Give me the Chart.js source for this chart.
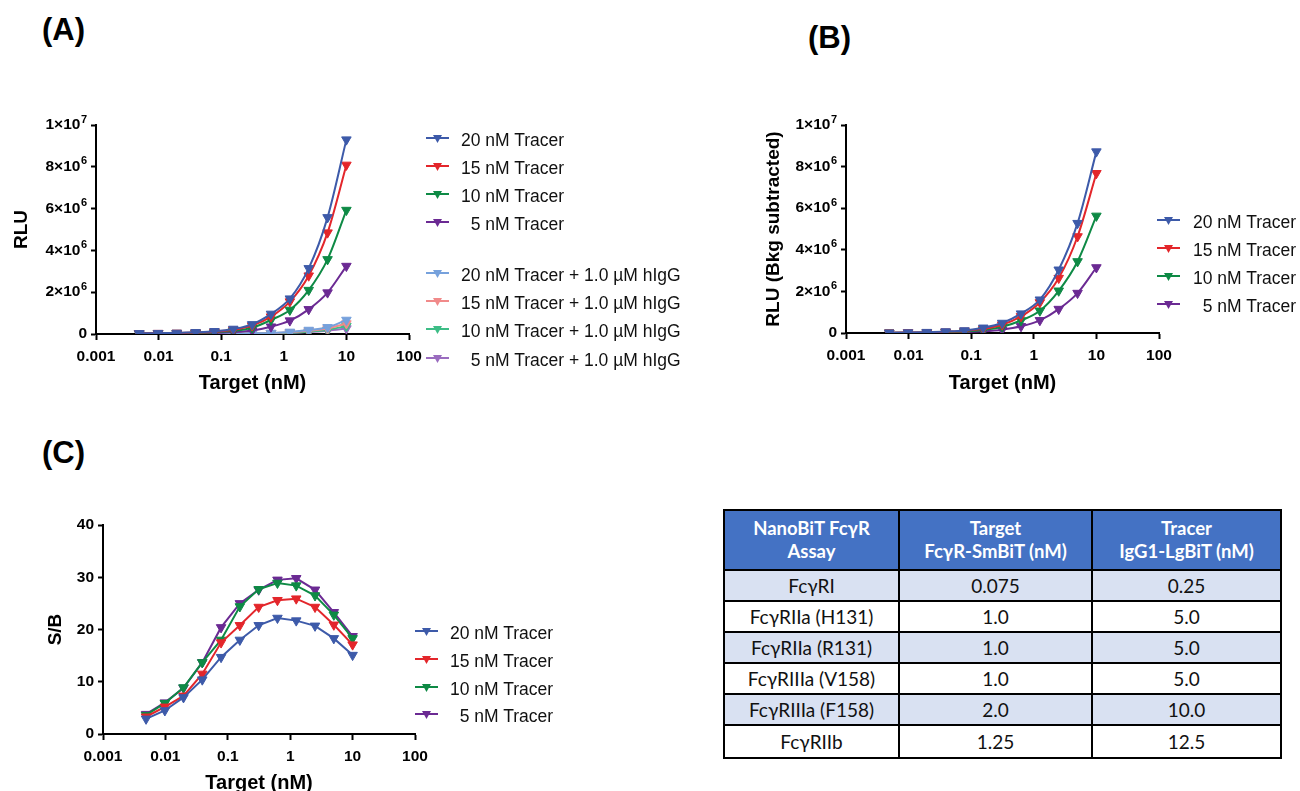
<!DOCTYPE html>
<html>
<head>
<meta charset="utf-8">
<script src="https://cdn.jsdelivr.net/npm/chart.js@4.4.1/dist/chart.umd.min.js"></script>
<style>
  body { margin: 0; background: #fff; }
  #page { position: relative; width: 1300px; height: 791px; overflow: hidden; font-family: "Liberation Sans", Arial, sans-serif; }
  canvas { position: absolute; }
  .panel { position: absolute; font-weight: bold; font-size: 31px; line-height: 36px; color: #000; }
  .leg { position: absolute; height: 20px; display: flex; align-items: center; font-size: 17.5px; white-space: pre; color: #111; }
  .leg svg { flex: none; }
  table { position: absolute; left: 723px; top: 509px; border-collapse: collapse; font-family: Lato, "Open Sans", sans-serif; font-size: 19px; text-align: center; color: #111; }
  td, th { border: 2px solid #000; padding: 0; }
  th { background: #4472c4; color: #fff; font-weight: bold; font-size: 18.5px; height: 58px; line-height: 23px; }
  td { height: 29px; }
  tr:last-child td { height: 31px; }
  tr.alt td { background: #d9e1f2; }
</style>
</head>
<body>
<div id="page">
  <div class="panel" style="left:42px;top:12px">(A)</div>
  <div class="panel" style="left:808px;top:20px">(B)</div>
  <div class="panel" style="left:42px;top:435px">(C)</div>
  <canvas id="chartA" width="440" height="290" style="left:0;top:110px"></canvas>
  <canvas id="chartB" width="450" height="290" style="left:740px;top:110px"></canvas>
  <canvas id="chartC" width="440" height="300" style="left:0;top:500px"></canvas>
  <table id="tbl"></table>
</div>
<script>
// target concentrations (nM), 2-fold dilution series
const conc = [0.0049, 0.0098, 0.0195, 0.039, 0.078, 0.156, 0.3125, 0.625, 1.25, 2.5, 5, 10];

// (A) raw RLU
const rlu20 = [0.03e6, 0.04e6, 0.05e6, 0.08e6, 0.13e6, 0.24e6, 0.46e6, 0.96e6, 1.69e6, 3.14e6, 5.58e6, 9.30e6];
const rlu15 = [0.03e6, 0.04e6, 0.05e6, 0.07e6, 0.11e6, 0.20e6, 0.40e6, 0.83e6, 1.55e6, 2.79e6, 4.85e6, 8.09e6];
const rlu10 = [0.02e6, 0.03e6, 0.04e6, 0.05e6, 0.08e6, 0.15e6, 0.30e6, 0.67e6, 1.15e6, 2.10e6, 3.57e6, 5.93e6];
const rlu5  = [0.02e6, 0.02e6, 0.03e6, 0.04e6, 0.05e6, 0.09e6, 0.17e6, 0.35e6, 0.64e6, 1.18e6, 1.98e6, 3.25e6];
const igg20 = [0.01e6, 0.01e6, 0.01e6, 0.01e6, 0.02e6, 0.02e6, 0.03e6, 0.05e6, 0.10e6, 0.19e6, 0.32e6, 0.67e6];
const igg15 = [0.01e6, 0.01e6, 0.01e6, 0.01e6, 0.01e6, 0.02e6, 0.02e6, 0.04e6, 0.08e6, 0.15e6, 0.26e6, 0.50e6];
const igg10 = [0.01e6, 0.01e6, 0.01e6, 0.01e6, 0.01e6, 0.01e6, 0.02e6, 0.03e6, 0.06e6, 0.11e6, 0.20e6, 0.38e6];
const igg5  = [0.01e6, 0.01e6, 0.01e6, 0.01e6, 0.01e6, 0.01e6, 0.02e6, 0.03e6, 0.05e6, 0.09e6, 0.16e6, 0.26e6];

// (B) background subtracted RLU
const bkg20 = [0.01e6, 0.02e6, 0.04e6, 0.07e6, 0.12e6, 0.25e6, 0.48e6, 0.93e6, 1.60e6, 3.04e6, 5.28e6, 8.72e6];
const bkg15 = [0.01e6, 0.02e6, 0.03e6, 0.06e6, 0.10e6, 0.20e6, 0.40e6, 0.80e6, 1.47e6, 2.64e6, 4.64e6, 7.68e6];
const bkg10 = [0.01e6, 0.01e6, 0.02e6, 0.04e6, 0.07e6, 0.14e6, 0.30e6, 0.60e6, 1.07e6, 2.03e6, 3.44e6, 5.63e6];
const bkg5  = [0.01e6, 0.01e6, 0.01e6, 0.02e6, 0.04e6, 0.08e6, 0.16e6, 0.32e6, 0.61e6, 1.15e6, 1.92e6, 3.15e6];

// (C) signal / background
const sb20 = [2.9, 4.5, 7.0, 10.4, 14.7, 18.0, 20.8, 22.2, 21.7, 20.7, 18.3, 15.1];
const sb15 = [3.3, 5.2, 7.3, 11.5, 17.5, 20.8, 24.3, 25.6, 25.9, 24.3, 20.9, 17.1];
const sb10 = [3.6, 5.9, 8.9, 13.7, 18.0, 24.4, 27.7, 28.9, 28.4, 26.5, 22.8, 18.3];
const sb5  = [3.8, 6.0, 8.8, 13.7, 20.4, 25.0, 27.6, 29.5, 29.8, 27.6, 23.3, 18.7];

const tracerLabels = ['20 nM Tracer', '15 nM Tracer', '10 nM Tracer', '  5 nM Tracer'];
const iggLabels = ['20 nM Tracer + 1.0 \u00b5M hIgG', '15 nM Tracer + 1.0 \u00b5M hIgG', '10 nM Tracer + 1.0 \u00b5M hIgG', '  5 nM Tracer + 1.0 \u00b5M hIgG'];
const xTicks = [0.001, 0.01, 0.1, 1, 10, 100];

const darkCols = ['#3d5aa9', '#e3262b', '#0e8a45', '#6b2a93'];
const lightCols = ['#76a1dc', '#f18a8a', '#3dbd86', '#9a6cbf'];

const tableHead = ['NanoBiT Fc\u03b3R<br>Assay', 'Target<br>Fc\u03b3R-SmBiT (nM)', 'Tracer<br>IgG1-LgBiT (nM)'];
const tableRows = [
  ['Fc\u03b3RI', '0.075', '0.25'],
  ['Fc\u03b3RIIa (H131)', '1.0', '5.0'],
  ['Fc\u03b3RIIa (R131)', '1.0', '5.0'],
  ['Fc\u03b3RIIIa (V158)', '1.0', '5.0'],
  ['Fc\u03b3RIIIa (F158)', '2.0', '10.0'],
  ['Fc\u03b3RIIb', '1.25', '12.5']
];

const FONT = '"Liberation Sans", Arial, sans-serif';
const TICK = 15.5;
Chart.defaults.font.family = FONT;
Chart.defaults.color = '#000';

function rluFmt(v) {
  if (v === 0) return '0';
  if (v === 1e7) return '1\u00d710\u2077';
  return (v / 1e6) + '\u00d710\u2076';
}

// draws the RLU tick labels with a real raised exponent (Prism style)
const supTicks = {
  id: 'supTicks',
  afterDraw(chart) {
    const s = chart.scales.y, ctx = chart.ctx;
    ctx.save();
    ctx.fillStyle = '#000';
    ctx.textBaseline = 'middle';
    ctx.textAlign = 'right';
    s.ticks.forEach(t => {
      const y = s.getPixelForValue(t.value);
      let x = s.right - 5 - 4;
      if (t.value === 0) {
        ctx.font = 'bold ' + TICK + 'px ' + FONT;
        ctx.fillText('0', x, y);
        return;
      }
      const big = t.value >= 1e7;
      const mant = big ? t.value / 1e7 : t.value / 1e6;
      const exp = big ? '7' : '6';
      ctx.font = 'bold 11px ' + FONT;
      ctx.fillText(exp, x, y - 5.5);
      x -= ctx.measureText(exp).width + 0.5;
      ctx.font = 'bold ' + TICK + 'px ' + FONT;
      ctx.fillText(mant + '\u00d710', x, y);
    });
    ctx.restore();
  }
};

function series(ys, color, smooth) {
  return {
    data: conc.map((x, i) => ({ x: x, y: ys[i] })),
    borderColor: color,
    backgroundColor: color,
    borderWidth: 2,
    pointStyle: 'triangle',
    rotation: 180,
    pointRadius: 5.5,
    pointBorderWidth: 1,
    cubicInterpolationMode: smooth ? 'monotone' : 'default',
    tension: 0
  };
}

function makeChart(id, datasets, c) {
  new Chart(document.getElementById(id), {
    type: 'line',
    data: { datasets: datasets },
    plugins: c.sup ? [supTicks] : [],
    options: {
      responsive: false,
      animation: false,
      devicePixelRatio: 1,
      layout: { padding: c.pad },
      plugins: { legend: { display: false }, tooltip: { enabled: false } },
      scales: {
        x: {
          type: 'logarithmic',
          min: 0.001,
          max: 100,
          afterBuildTicks: (s) => { s.ticks = xTicks.map(v => ({ value: v })); },
          afterFit: (s) => { s.height = c.xHeight; },
          ticks: { callback: (v) => String(v), font: { size: TICK, weight: 'bold' }, padding: 7, maxRotation: 0, autoSkip: false },
          grid: { drawOnChartArea: false, tickLength: 6, tickColor: '#000', tickWidth: 2 },
          border: { color: '#000', width: 2 },
          title: { display: true, text: 'Target (nM)', font: { size: 20, weight: 'bold' }, padding: { bottom: 5, top: 0 } }
        },
        y: {
          min: 0,
          max: c.yMax,
          afterFit: (s) => { s.width = c.yWidth; },
          ticks: { stepSize: c.yStep, callback: c.yFmt, font: { size: TICK, weight: 'bold' }, padding: 4,
                   color: c.sup ? 'rgba(0,0,0,0)' : '#000' },
          grid: { drawOnChartArea: false, tickLength: 5, tickColor: '#000', tickWidth: 2 },
          border: { color: '#000', width: 2 },
          title: { display: true, text: c.yTitle, font: { size: 19, weight: 'bold' }, padding: { top: c.yTitlePad, bottom: 0 } }
        }
      }
    }
  });
}

makeChart('chartA', [
  series(rlu20, darkCols[0], true), series(rlu15, darkCols[1], true),
  series(rlu10, darkCols[2], true), series(rlu5, darkCols[3], true),
  series(igg20, lightCols[0], true), series(igg15, lightCols[1], true),
  series(igg10, lightCols[2], true), series(igg5, lightCols[3], true)
], { pad: { left: 0, top: 15, right: 31, bottom: 0 }, xHeight: 66, yWidth: 96, yMax: 1e7, yStep: 2e6, yFmt: rluFmt, yTitle: 'RLU', yTitlePad: 10, sup: true });

makeChart('chartB', [
  series(bkg20, darkCols[0], true), series(bkg15, darkCols[1], true),
  series(bkg10, darkCols[2], true), series(bkg5, darkCols[3], true)
], { pad: { left: 0, top: 15, right: 31, bottom: 0 }, xHeight: 67, yWidth: 106, yMax: 1e7, yStep: 2e6, yFmt: rluFmt, yTitle: 'RLU (Bkg subtracted)', yTitlePad: 22, sup: true });

makeChart('chartC', [
  series(sb20, darkCols[0], false), series(sb15, darkCols[1], false),
  series(sb10, darkCols[2], false), series(sb5, darkCols[3], false)
], { pad: { left: 0, top: 25, right: 25, bottom: 0 }, xHeight: 66, yWidth: 103, yMax: 40, yStep: 10, yFmt: (v) => String(v), yTitle: 'S/B', yTitlePad: 44, sup: false });

// legends
function legend(markX, textX, ys, labels, colors) {
  const page = document.getElementById('page');
  labels.forEach((lab, i) => {
    const d = document.createElement('div');
    d.className = 'leg';
    d.style.left = markX + 'px';
    d.style.top = (ys[i] - 10) + 'px';
    const col = colors[i];
    d.innerHTML = '<svg width="23" height="14"><line x1="0" y1="5" x2="23" y2="5" stroke="' + col + '" stroke-width="2"/>' +
      '<polygon points="7,2 16,2 11.5,10" fill="' + col + '"/></svg>';
    const sp = document.createElement('span');
    sp.style.marginLeft = (textX - markX - 23) + 'px';
    sp.textContent = lab;
    d.appendChild(sp);
    page.appendChild(d);
  });
}
legend(426, 461, [140, 168, 196, 224], tracerLabels, darkCols);
legend(426, 461, [275, 303, 331, 360], iggLabels, lightCols);
legend(1157, 1193, [222, 250, 278, 306], tracerLabels, darkCols);
legend(415, 450, [633, 661, 689, 716], tracerLabels, darkCols);

// table
const tbl = document.getElementById('tbl');
let html = '<colgroup><col style="width:175px"><col style="width:193px"><col style="width:189px"></colgroup><tr>';
tableHead.forEach(h => { html += '<th>' + h + '</th>'; });
html += '</tr>';
tableRows.forEach((r, i) => {
  html += '<tr class="' + (i % 2 === 0 ? 'alt' : '') + '">';
  r.forEach(v => { html += '<td>' + v + '</td>'; });
  html += '</tr>';
});
tbl.innerHTML = html;
</script>
</body>
</html>
